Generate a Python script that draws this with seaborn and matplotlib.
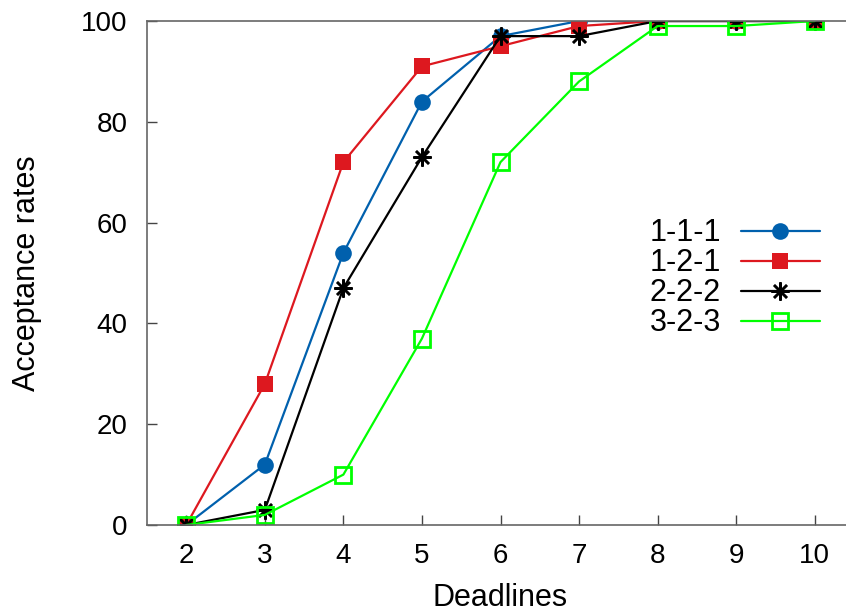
import pandas as pd
import matplotlib
matplotlib.use("Agg")
import matplotlib.pyplot as plt
import seaborn as sns

deadlines = [2, 3, 4, 5, 6, 7, 8, 9, 10]
rate_111 = [0, 12, 54, 84, 97, 100, 100, 100, 100]
rate_121 = [0, 28, 72, 91, 95, 99, 100, 100, 100]
rate_222 = [0, 3, 47, 73, 97, 97, 100, 100, 100]
rate_323 = [0, 2, 10, 37, 72, 88, 99, 99, 100]

series = ["1-1-1", "1-2-1", "2-2-2", "3-2-3"]
values = [rate_111, rate_121, rate_222, rate_323]
colors = ["#0060ad", "#dd181f", "#000000", "#00ff00"]
markers = ["o", "s", (8, 2, 0), "s"]

sns.set_style("white")
plt.rcParams["font.family"] = ["Liberation Sans", "DejaVu Sans"]
plt.rcParams["text.color"] = "black"
plt.rcParams["axes.labelcolor"] = "black"
plt.rcParams["xtick.color"] = "black"
plt.rcParams["ytick.color"] = "black"

fig = plt.figure(figsize=(8.46, 6.14), dpi=100)
ax = fig.add_axes([147 / 846, 89 / 614, 707 / 846, 504 / 614])

for name, vals, col, mk in zip(series, values, colors, markers):
    df = pd.DataFrame({"Deadlines": deadlines, "rate": vals})
    kw = dict(marker=mk, color=col, linewidth=1.6, markersize=12, markeredgecolor=col)
    if name == "3-2-3":
        kw.update(markerfacecolor="none", markeredgewidth=2, markersize=11)
    elif name == "2-2-2":
        kw.update(markeredgewidth=1.8, markersize=13)
    else:
        kw.update(markeredgewidth=0)
    sns.lineplot(data=df, x="Deadlines", y="rate", ax=ax, label=name, **kw)

ax.set_xlim(1.5, 10.5)
ax.set_ylim(0, 100)
ax.set_xticks(deadlines)
ax.set_yticks([0, 20, 40, 60, 80, 100])
ax.tick_params(direction="in", length=7, width=1, color="#444444", labelsize=20,
               bottom=True, left=True, top=False, right=False)
ax.tick_params(axis="y", pad=14)
ax.tick_params(axis="x", pad=13)
for s in ax.spines.values():
    s.set_color("#666666")
    s.set_linewidth(1.2)

ax.set_xlabel("Deadlines", fontsize=22, labelpad=10)
ax.set_ylabel("Acceptance rates", fontsize=22, labelpad=28)

ax.legend(loc="upper left", bbox_to_anchor=(634 / 846, 1 - 203 / 614),
          bbox_transform=fig.transFigure, frameon=False, fontsize=22,
          markerfirst=False, handlelength=2.6, handletextpad=0.65,
          labelspacing=0.0, borderpad=0)

fig.savefig("out.png", dpi=100)
